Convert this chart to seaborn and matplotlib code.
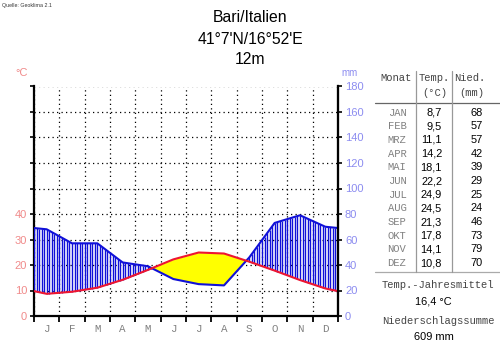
import numpy as np
import pandas as pd
import matplotlib
matplotlib.use("Agg")
import matplotlib.pyplot as plt
import seaborn as sns
from matplotlib.lines import Line2D

# ---------------- data ----------------
months_de = ["JAN", "FEB", "MRZ", "APR", "MAI", "JUN", "JUL", "AUG", "SEP", "OKT", "NOV", "DEZ"]
month_letters = ["J", "F", "M", "A", "M", "J", "J", "A", "S", "O", "N", "D"]
temp_c = [8.7, 9.5, 11.1, 14.2, 18.1, 22.2, 24.9, 24.5, 21.3, 17.8, 14.1, 10.8]
precip_mm = [68, 57, 57, 42, 39, 29, 25, 24, 46, 73, 79, 70]
left_tick_labels = ["0", "10", "20", "30", "40"]
right_ticks = [0, 20, 40, 60, 80, 100, 120, 140, 160, 180]
title_lines = ["Bari/Italien", "41°7'N/16°52'E", "12m"]
annual_mean_label = "16,4 °C"
annual_sum_label = "609 mm"
source_label = "Quelle: Geoklima 2.1"

# ---------------- styles ----------------
sns.set_style("white")
plt.rcParams["font.family"] = ["Liberation Sans", "DejaVu Sans"]
MONO = ["Liberation Mono", "DejaVu Sans Mono"]
PINK = "#f08a8a"
LBLUE = "#8c8cf0"
GRAY = "#808080"
RED = "#ee1530"
BLUE = "#1010d8"

W, H = 500, 347
fig = plt.figure(figsize=(W / 100, H / 100), dpi=100)
ax = fig.add_axes([34 / W, 1 - 316 / H, 304 / W, (316 - 86.5) / H])

# curve points: month centres, closed at the edges with the Dec/Jan mean
x_pts = np.concatenate([[0.0], np.arange(12) + 0.5, [12.0]])
t_edge = (temp_c[-1] + temp_c[0]) / 2
p_edge = (precip_mm[-1] + precip_mm[0]) / 2
t_scaled = np.array([t_edge] + temp_c + [t_edge]) * 2.0  # 10 °C = 20 mm
p_vals = np.array([p_edge] + precip_mm + [p_edge], dtype=float)
df = pd.DataFrame({"x": x_pts, "temp": t_scaled, "precip": p_vals})

# yellow arid area
ax.fill_between(df["x"], df["precip"], df["temp"], where=df["temp"] >= df["precip"],
                interpolate=True, color="#ffff00", linewidth=0, zorder=2)

# humid hatching (vertical blue lines)
xs = np.linspace(0, 12, 121)
ti = np.interp(xs, df["x"], df["temp"])
pi = np.interp(xs, df["x"], df["precip"])
m = pi > ti
ax.vlines(xs[m], ti[m], pi[m], color=BLUE, linewidth=1.0, zorder=3)

sns.lineplot(data=df, x="x", y="precip", ax=ax, color=BLUE, linewidth=1.5, zorder=4)
sns.lineplot(data=df, x="x", y="temp", ax=ax, color=RED, linewidth=1.5, zorder=5)

ax.set_xlim(0, 12)
ax.set_ylim(0, 180)
ax.set_xlabel("")
ax.set_ylabel("")

# grid
ax.set_xticks(np.arange(13))
ax.set_xticklabels([])
ax.set_xticks(np.arange(12) + 0.5, minor=True)
ax.set_xticklabels(month_letters, minor=True, family=MONO, fontsize=7.8, color=GRAY)
ax.tick_params(axis="x", which="major", direction="out", length=4, width=1.3, color="black", bottom=True)
ax.tick_params(axis="x", which="minor", length=0, pad=6)
ax.set_yticks(right_ticks)
ax.set_yticklabels(left_tick_labels + [""] * (len(right_ticks) - len(left_tick_labels)),
                   fontsize=8, color=PINK)
ax.tick_params(axis="y", direction="out", length=3, width=1.2, color="black", left=True, pad=2)
ax.grid(True, which="major", color="black", linestyle=(0, (1, 2.6)), linewidth=0.9, zorder=1)
ax.set_axisbelow(True)

for s in ["left", "right", "bottom"]:
    ax.spines[s].set_visible(True)
    ax.spines[s].set_color("black")
    ax.spines[s].set_linewidth(1.6)
ax.spines["top"].set_visible(False)

ax2 = ax.twinx()
ax2.set_ylim(0, 180)
ax2.set_yticks(right_ticks)
ax2.set_yticklabels([str(v) for v in right_ticks], fontsize=8, color=LBLUE)
ax2.tick_params(axis="y", direction="out", length=3, width=1.2, color="black", right=True, pad=2)
for s in ["left", "top", "bottom"]:
    ax2.spines[s].set_visible(False)
ax2.spines["right"].set_color("black")
ax2.spines["right"].set_linewidth(1.5)
ax2.grid(False)

# units
fig.text(22 / W, 1 - 73 / H, "°C", color=PINK, fontsize=8, ha="center", va="center")
fig.text(350 / W, 1 - 73 / H, "mm", color=LBLUE, fontsize=7, ha="center", va="center")

# title
for i, (txt, y) in enumerate(zip(title_lines, [17, 39, 60])):
    fig.text(250 / W, 1 - y / H, txt, fontsize=11.3, ha="center", va="center", color="black")
fig.text(2 / W, 1 - 5 / H, source_label, fontsize=3.8, ha="left", va="center", color="#333333")

# ---------------- table ----------------
def ty(y):
    return 1 - y / H

fs_mono = 7.6
fs_val = 7.9
fig.text(396 / W, ty(78), "Monat", family=MONO, fontsize=fs_mono, ha="center", va="center", color="#444444")
fig.text(434 / W, ty(78), "Temp.", family=MONO, fontsize=fs_mono, ha="center", va="center", color="#444444")
fig.text(470 / W, ty(78), "Nied.", family=MONO, fontsize=fs_mono, ha="center", va="center", color="#444444")
fig.text(435 / W, ty(93), "(°C)", family=MONO, fontsize=fs_mono, ha="center", va="center", color="#444444")
fig.text(472 / W, ty(93), "(mm)", family=MONO, fontsize=fs_mono, ha="center", va="center", color="#444444")

row0, dy = 112.5, 13.7
for i, (mn, t, p) in enumerate(zip(months_de, temp_c, precip_mm)):
    y = row0 + i * dy
    fig.text(397 / W, ty(y), mn, family=MONO, fontsize=fs_mono, ha="center", va="center", color=GRAY)
    fig.text(442 / W, ty(y), f"{t:.1f}".replace(".", ","), fontsize=fs_val, ha="right", va="center", color="black")
    fig.text(483 / W, ty(y), f"{p}", fontsize=fs_val, ha="right", va="center", color="black")

fig.add_artist(Line2D([375 / W, 500 / W], [ty(103), ty(103)], color="#666666", linewidth=0.9))
fig.add_artist(Line2D([375 / W, 500 / W], [ty(272), ty(272)], color="#aaaaaa", linewidth=0.9))
for xv in [416, 452]:
    fig.add_artist(Line2D([xv / W, xv / W], [ty(71), ty(272)], color="#999999", linewidth=0.9))

fig.text(438 / W, ty(285), "Temp.-Jahresmittel", family=MONO, fontsize=fs_mono, ha="center", va="center", color="#444444")
fig.text(433 / W, ty(301), annual_mean_label, fontsize=fs_val, ha="center", va="center", color="black")
fig.text(438 / W, ty(321), "Niederschlagssumme", family=MONO, fontsize=fs_mono, ha="center", va="center", color="#444444")
fig.text(434 / W, ty(337), annual_sum_label, fontsize=fs_val, ha="center", va="center", color="black")

fig.savefig("out.png", dpi=100, facecolor="white")
